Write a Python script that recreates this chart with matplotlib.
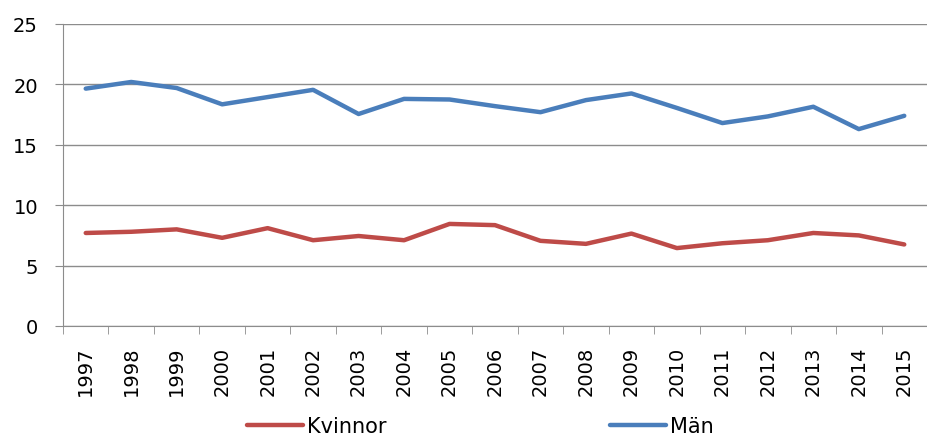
import numpy as np
import matplotlib.pyplot as plt

years = [str(y) for y in range(1997, 2016)]
kvinnor = [7.7, 7.8, 8.0, 7.3, 8.1, 7.1, 7.45, 7.1, 8.45, 8.35, 7.05, 6.8, 7.65, 6.45, 6.85, 7.1, 7.7, 7.5, 6.75]
man = [19.65, 20.2, 19.7, 18.35, 18.95, 19.55, 17.55, 18.8, 18.75, 18.2, 17.7, 18.7, 19.25, 18.05, 16.8, 17.35, 18.15, 16.3, 17.4]

fig = plt.figure(figsize=(9.27, 4.39), dpi=100)
ax = fig.add_axes([63 / 927, 1 - 327 / 439, 1 - 63 / 927, 302 / 439])

x = np.arange(len(years))
ax.plot(x, kvinnor, color="#BE4B48", lw=3.2, label="Kvinnor", solid_capstyle="round")
ax.plot(x, man, color="#4A7EBB", lw=3.2, label="Män", solid_capstyle="round")

ax.set_xlim(-0.5, len(years) - 0.5)
ax.set_ylim(0, 25)
ax.set_yticks([0, 5, 10, 15, 20, 25])
ax.yaxis.grid(True, color="#8c8c8c", lw=1)
ax.set_axisbelow(True)

ax.set_xticks(x)
ax.set_xticklabels(years, rotation=90, fontsize=14)
ax.set_xticks(np.arange(-0.5, len(years)), minor=True)
ax.tick_params(axis="x", which="major", length=0, pad=14)
ax.tick_params(axis="x", which="minor", length=6, color="#8c8c8c")
ax.tick_params(axis="y", length=6, color="#8c8c8c", labelsize=14, pad=12)

for s in ["top", "right"]:
    ax.spines[s].set_visible(False)
for s in ["left", "bottom"]:
    ax.spines[s].set_color("#8c8c8c")

fig.legend(loc="lower center", bbox_to_anchor=(0.518, -0.038), ncol=2, frameon=False,
           fontsize=15, columnspacing=10.7, handlelength=2.7, handletextpad=0.2)

fig.savefig("out.png", dpi=100)
